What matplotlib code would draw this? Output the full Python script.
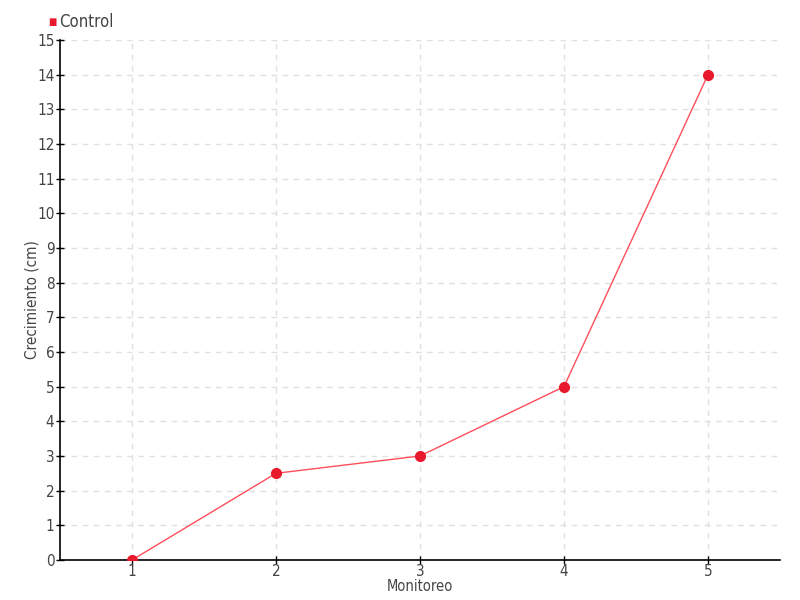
import matplotlib
matplotlib.use("Agg")
import matplotlib.pyplot as plt

# -----------------------------
# Data
# -----------------------------
monitoreo = [1, 2, 3, 4, 5]
control = [0, 2.5, 3, 5, 14]
y_ticks = list(range(0, 16))

LINE_COLOR = "#ff4d5a"
MARKER_COLOR = "#e8192c"
GRID_COLOR = "#e0e0e0"
TEXT_COLOR = "#444444"

plt.rcParams["font.family"] = ["DejaVu Sans"]
plt.rcParams["font.stretch"] = "condensed"
plt.rcParams["font.size"] = 11

fig = plt.figure(figsize=(8, 6), dpi=100)
ax = fig.add_axes([0.075, 0.0667, 0.9, 0.8667])

ax.plot(
    monitoreo,
    control,
    color=LINE_COLOR,
    linewidth=1,
    marker="o",
    markersize=7,
    markerfacecolor=MARKER_COLOR,
    markeredgecolor=MARKER_COLOR,
    zorder=3
)

ax.set_xlim(0.5, 5.5)
ax.set_ylim(0, 15)
ax.set_xticks(monitoreo)
ax.set_yticks(y_ticks)

ax.grid(True, color=GRID_COLOR, linestyle=(0, (4, 4)), linewidth=1)
ax.set_axisbelow(True)

for side in ["top", "right"]:
    ax.spines[side].set_visible(False)
for side in ["left", "bottom"]:
    ax.spines[side].set_color("black")
    ax.spines[side].set_linewidth(1.2)

ax.tick_params(direction="inout", length=6, width=1, colors="black",
               labelcolor=TEXT_COLOR, labelsize=11)
ax.tick_params(axis="x", pad=0)
ax.tick_params(axis="y", pad=1)

ax.set_xlabel("Monitoreo", color=TEXT_COLOR, fontsize=10.5)
ax.set_ylabel("Crecimiento (cm)", color=TEXT_COLOR, fontsize=11)
ax.xaxis.set_label_coords(0.5, -0.037)
ax.yaxis.set_label_coords(-0.029, 0.5)

# legend at top-left of figure
fig.text(0.066, 0.963, "\u25a0", color=MARKER_COLOR, fontsize=7,
         ha="center", va="center")
fig.text(0.074, 0.963, "Control", color=TEXT_COLOR, fontsize=12,
         ha="left", va="center")

plt.savefig("out.png", dpi=100)
plt.close()
